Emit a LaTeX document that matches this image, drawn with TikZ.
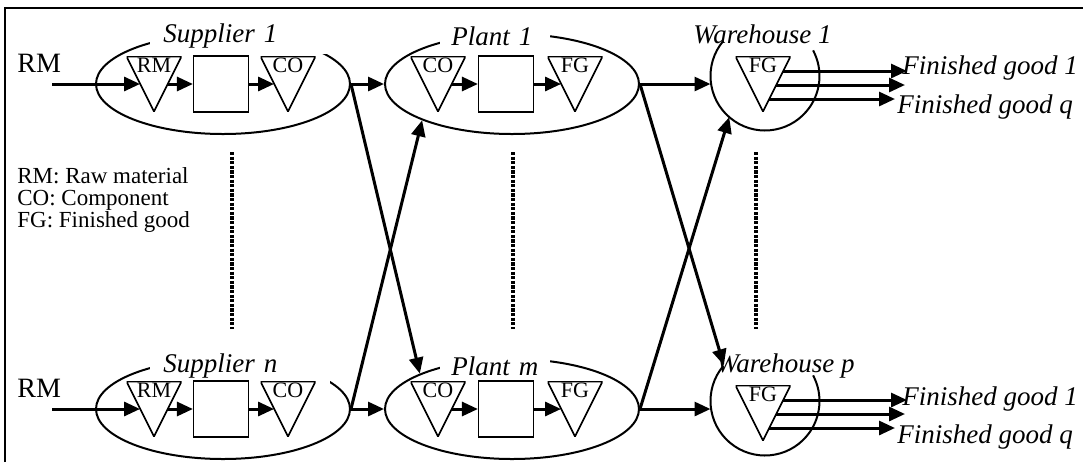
\documentclass[tikz,border=0pt]{standalone}
\usepackage{fontspec}
\setmainfont{Liberation Serif}
\usetikzlibrary{arrows.meta, positioning, shapes.geometric, calc}

\begin{document}
\begin{tikzpicture}[
      x=0.5pt, y=-0.5pt,
      stage/.style={draw, ellipse, line width=1pt, minimum width=127pt, minimum height=50pt, inner sep=0},
      depot/.style={circle, minimum size=54.5pt, inner sep=0, outer sep=0},
      stock/.style={minimum width=27.5pt, minimum height=27.5pt, inner sep=0, font=\fontsize{11}{13}\selectfont,
        text height=7pt, text depth=18.5pt,
        path picture={\draw[line width=0.8pt] (path picture bounding box.north west) -- (path picture bounding box.north east) -- (path picture bounding box.south) -- cycle;}},
      proc/.style={draw, line width=0.6pt, minimum width=27.5pt, minimum height=28pt, inner sep=0},
      stagename/.style={fill=white, anchor=west, align=left, inner ysep=3pt, font=\fontsize{13.5}{16}\selectfont\itshape},
      goodname/.style={anchor=base west, inner sep=0, font=\fontsize{13.5}{16}\selectfont\itshape},
      keytext/.style={anchor=base west, inner sep=0, font=\fontsize{11.5}{14}\selectfont},
      rawtext/.style={anchor=base west, inner sep=0, font=\fontsize{14}{16}\selectfont},
      flow/.style={-{Triangle[length=8pt, width=7pt]}, line width=1.5pt},
      dots/.style={line width=1.6pt, dash pattern=on 1.6pt off 0.7pt}
    ]
    \useasboundingbox (0,0) rectangle (1083,462);
    \draw[line width=1.3pt] (5,462) -- (5,8) -- (1083,8);

    % suppliers
    \node[stage] (s1) at (223,84) {};
    \node[stagename, text width=77pt, inner xsep=6.5pt] (s1t) at (150,36) {Supplier 1};
    \node[stock] (s1rm) at (154,84) {RM};
    \node[proc] (s1box) at (221,84) {};
    \node[stock] (s1co) at (288,84) {CO};
    \node[stage] (sn) at (223,409) {};
    \node[stagename, text width=77pt, inner xsep=6.5pt] (snt) at (150,366) {Supplier n};
    \node[stock] (snrm) at (154,409) {RM};
    \node[proc] (snbox) at (221,409) {};
    \node[stock] (snco) at (288,409) {CO};

    % plants
    \node[stage] (p1) at (512,84) {};
    \node[stagename, text width=44pt, inner xsep=5.5pt] (p1t) at (440,36) {Plant 1};
    \node[stock] (p1co) at (438,84) {CO};
    \node[proc] (p1box) at (506,84) {};
    \node[stock] (p1fg) at (575,84) {FG};
    \node[stage] (pm) at (512,409) {};
    \node[stagename, text width=44pt, inner xsep=5.5pt] (pmt) at (440,366) {Plant m};
    \node[stock] (pmco) at (438,409) {CO};
    \node[proc] (pmbox) at (506,409) {};
    \node[stock] (pmfg) at (575,409) {FG};

    % warehouses
    \node[depot] (w1) at (765,76) {};
    \draw[line width=1pt] (w1.140) arc[start angle=140, end angle=388, radius=27.25pt];
    \node[goodname] (w1t) at (693,43) {Warehouse 1};
    \node[stock] (w1fg) at (763,84) {FG};
    \node[depot] (wp) at (765,401) {};
    \draw[line width=1pt] (wp.140) arc[start angle=140, end angle=388, radius=27.25pt];
    \node[goodname] (wpt) at (716,372) {Warehouse p};
    \node[stock] (wpfg) at (763,413) {FG};

    % texts
    \node[rawtext] (rm1) at (17,72) {RM};
    \node[rawtext] (rmn) at (17,397) {RM};
    \node[keytext] (key1) at (17,183) {RM: Raw material};
    \node[keytext] (key2) at (17,205) {CO: Component};
    \node[keytext] (key3) at (17,227) {FG: Finished good};
    \node[goodname] (w1g1) at (902,74) {Finished good 1};
    \node[goodname] (w1gq) at (897,113) {Finished good q};
    \node[goodname] (wpg1) at (902,405) {Finished good 1};
    \node[goodname] (wpgq) at (897,443) {Finished good q};

    \draw[dots] (232,152) -- (232,329);
    \draw[dots] (513,152) -- (513,329);
    \draw[dots] (756,152) -- (756,329);

    % inside the suppliers and plants
    \coordinate (s1in) at (52,84);
    \coordinate (snin) at (52,409);
    \draw[flow] (s1in) -- ($(s1rm.west)!0.5!(s1rm.center)$);
    \draw[flow] ($(s1rm.east)!0.5!(s1rm.center)$) -- (s1box);
    \draw[flow] (s1box) -- ($(s1co.west)!0.5!(s1co.center)$);
    \draw[flow] (snin) -- ($(snrm.west)!0.5!(snrm.center)$);
    \draw[flow] ($(snrm.east)!0.5!(snrm.center)$) -- (snbox);
    \draw[flow] (snbox) -- ($(snco.west)!0.5!(snco.center)$);
    \draw[flow] ($(p1co.east)!0.5!(p1co.center)$) -- (p1box);
    \draw[flow] (p1box) -- ($(p1fg.west)!0.5!(p1fg.center)$);
    \draw[flow] ($(pmco.east)!0.5!(pmco.center)$) -- (pmbox);
    \draw[flow] (pmbox) -- ($(pmfg.west)!0.5!(pmfg.center)$);

    % between the stages
    \draw[flow] (s1.east) -- (p1.west);
    \draw[flow] (sn.east) -- (pm.west);
    \draw[flow] (s1.east) -- (pm.159);
    \draw[flow] (sn.east) -- (p1.202);
    \draw[flow] (p1.east) -- (p1.east -| w1.west);
    \draw[flow] (pm.east) -- (pm.east -| wp.west);
    \draw[flow] (p1.east) -- (wp.139);
    \draw[flow] (pm.east) -- (w1.229);

    % finished goods out
    \coordinate (w1o1) at (907,71);
    \coordinate (w1o2) at (905,85);
    \coordinate (w1oq) at (895,99);
    \coordinate (wpo1) at (907,400);
    \coordinate (wpo2) at (905,414);
    \coordinate (wpoq) at (895,428);
    \draw[flow] ([shift={(20.25,-13)}]w1fg.center) -- (w1o1);
    \draw[flow] ([shift={(13.25,1)}]w1fg.center) -- (w1o2);
    \draw[flow] ([shift={(6.25,15)}]w1fg.center) -- (w1oq);
    \draw[flow] ([shift={(20.25,-13)}]wpfg.center) -- (wpo1);
    \draw[flow] ([shift={(13.25,1)}]wpfg.center) -- (wpo2);
    \draw[flow] ([shift={(6.25,15)}]wpfg.center) -- (wpoq);
  \end{tikzpicture}
\end{document}
